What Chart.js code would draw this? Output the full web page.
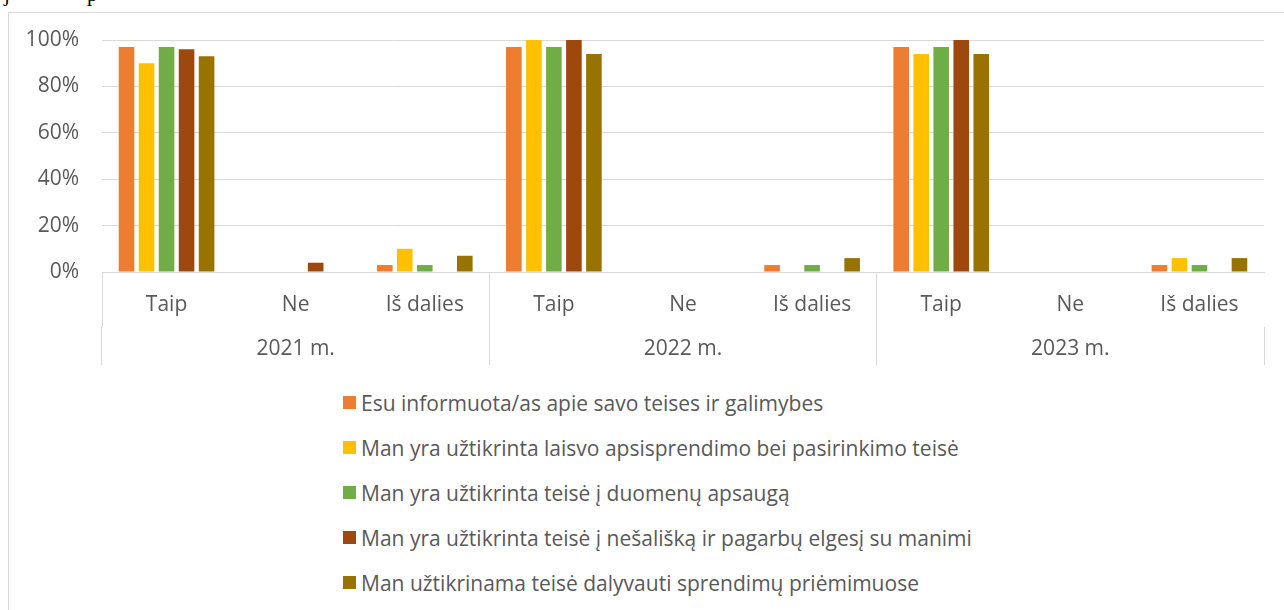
<!DOCTYPE html>
<html>
<head>
<meta charset="utf-8">
<script src="https://cdn.jsdelivr.net/npm/chart.js@4"></script>
<style>
  html, body { margin: 0; padding: 0; background: #fff; overflow: hidden; }
  body { width: 1284px; height: 610px; position: relative; font-family: "Open Sans", sans-serif; }
  #frame { position: absolute; left: 8px; top: 12px; width: 1300px; height: 620px; border: 1px solid #d9d9d9; }
  #wrap { position: absolute; left: 0; top: 0; width: 1284px; height: 380px; }
  #legend { position: absolute; left: 343px; top: 380px; color: #595959; font-size: 21px; }
  #legend .row { height: 45px; display: flex; align-items: center; white-space: nowrap; }
  #legend .box { width: 13px; height: 13px; margin-right: 5px; flex: none; }
  .frag { position: absolute; top: -18px; font-family: "Liberation Serif", serif; font-size: 21px; color: #000; }
</style>
</head>
<body>
<span class="frag" style="left:4px">j</span>
<span class="frag" style="left:87px">p</span>
<div id="frame"></div>
<div id="wrap"><canvas id="barChart" width="1284" height="380"></canvas></div>
<div id="legend"></div>
<script>
  const categories = ['Taip', 'Ne', 'Iš dalies', 'Taip', 'Ne', 'Iš dalies', 'Taip', 'Ne', 'Iš dalies'];
  const years = ['2021 m.', '2022 m.', '2023 m.'];
  const yTicks = [0, 20, 40, 60, 80, 100];

  const seriesNames = [
    'Esu informuota/as apie savo teises ir galimybes',
    'Man yra užtikrinta laisvo apsisprendimo bei pasirinkimo teisė',
    'Man yra užtikrinta teisė į duomenų apsaugą',
    'Man yra užtikrinta teisė į nešališką ir pagarbų elgesį su manimi',
    'Man užtikrinama teisė dalyvauti sprendimų priėmimuose'
  ];
  const informuota = [97, 0, 3, 97, 0, 3, 97, 0, 3];
  const apsisprendimas = [90, 0, 10, 100, 0, 0, 94, 0, 6];
  const duomenys = [97, 0, 3, 97, 0, 3, 97, 0, 3];
  const nesaliskumas = [96, 4, 0, 100, 0, 0, 100, 0, 0];
  const dalyvavimas = [93, 0, 7, 94, 0, 6, 94, 0, 6];
  const colors = ['#ED7D31', '#FFC000', '#70AD47', '#9E480E', '#997300'];

  const seriesValues = [informuota, apsisprendimas, duomenys, nesaliskumas, dalyvavimas];
  const textColor = '#595959';
  const gridColor = '#d9d9d9';
  const font = { family: 'Open Sans', size: 21 };

  const dataSource = {
    labels: categories,
    datasets: seriesValues.map(function (vals, i) {
      return {
        label: seriesNames[i],
        data: vals,
        backgroundColor: colors[i],
        categoryPercentage: 0.775,
        barPercentage: 0.78
      };
    })
  };

  const ctx = document.getElementById('barChart').getContext('2d');
  const myBarChart = new Chart(ctx, {
    type: 'bar',
    data: dataSource,
    options: {
      responsive: false,
      animation: false,
      layout: { padding: { left: 10, right: 20, top: 40, bottom: 15 } },
      plugins: {
        legend: { display: false },
        tooltip: { enabled: false }
      },
      scales: {
        y: {
          min: 0,
          max: 100,
          afterFit: function (scale) { scale.width = 92; },
          afterBuildTicks: function (scale) {
            scale.ticks = yTicks.map(function (v) { return { value: v }; });
          },
          ticks: {
            color: textColor,
            font: font,
            padding: 23,
            callback: function (v) { return v + '%'; }
          },
          grid: { color: gridColor, lineWidth: 1, drawTicks: false },
          border: { display: false }
        },
        x: {
          weight: 0,
          offset: true,
          afterFit: function (scale) { scale.height = 55; },
          ticks: {
            color: textColor,
            font: font,
            maxRotation: 0,
            autoSkip: false,
            padding: -35
          },
          grid: {
            offset: true,
            drawOnChartArea: false,
            tickLength: 55,
            color: function (c) { return c.index % 3 === 0 ? gridColor : 'rgba(0,0,0,0)'; }
          },
          border: { display: true, color: gridColor }
        },
        x2: {
          type: 'category',
          position: 'bottom',
          weight: 1,
          labels: years,
          offset: true,
          afterFit: function (scale) { scale.height = 38; },
          ticks: {
            color: textColor,
            font: font,
            maxRotation: 0,
            autoSkip: false,
            padding: -29
          },
          grid: {
            offset: true,
            drawOnChartArea: false,
            tickLength: 38,
            color: gridColor
          },
          border: { display: false }
        }
      }
    }
  });

  // legend list built from the chart's own legend items
  const legendEl = document.getElementById('legend');
  const items = myBarChart.options.plugins.legend.labels.generateLabels(myBarChart);
  items.forEach(function (item) {
    const row = document.createElement('div');
    row.className = 'row';
    const box = document.createElement('span');
    box.className = 'box';
    box.style.background = item.fillStyle;
    const txt = document.createElement('span');
    txt.textContent = item.text;
    row.appendChild(box);
    row.appendChild(txt);
    legendEl.appendChild(row);
  });
</script>
</body>
</html>
